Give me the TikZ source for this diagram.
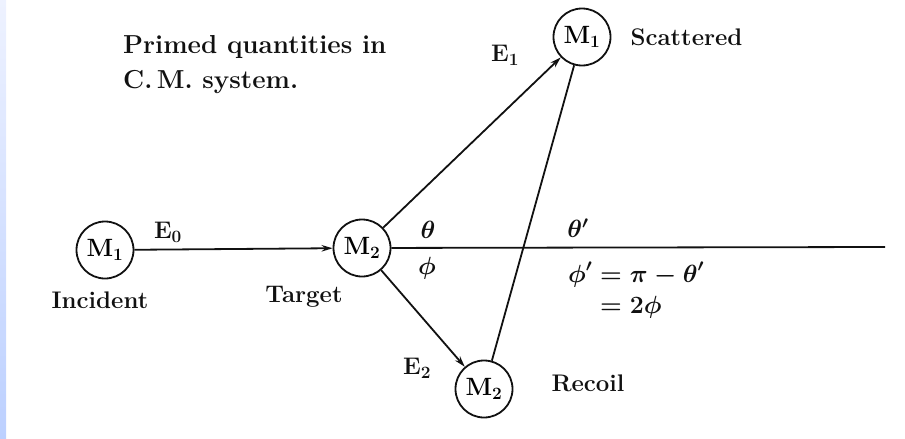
\documentclass[tikz,border=0pt]{standalone}
\usepackage{xcolor}
\usepackage{amsmath,amssymb}
\usepackage{tikz}
\usetikzlibrary{arrows.meta,positioning}
\definecolor{Ink}{HTML}{111111}
\definecolor{StripTop}{HTML}{EEF2FF}
\definecolor{StripBot}{HTML}{BCD0FF}

\begin{document}
\begin{tikzpicture}[x=1pt,y=-1pt,
    particle/.style={circle,draw=Ink,line width=1.8pt,minimum size=57pt,inner sep=0pt,font=\fontsize{25}{28}\selectfont\bfseries\boldmath},
    tag/.style={inner sep=1pt,text=Ink,font=\fontsize{24}{28}\selectfont\bfseries\boldmath},
    arrow/.style={-{Stealth[length=11pt,width=6.5pt]},line width=1.8pt,draw=Ink},
    track/.style={line width=1.8pt,draw=Ink}
]
\useasboundingbox (0,0) rectangle (905,439);
\shade[top color=StripTop,bottom color=StripBot] (0,0) rectangle (6,439);
\node[particle] (inc) at (105,250) {M$_1$};
\node[particle] (tgt) at (362,248) {M$_2$};
\node[particle] (sca) at (582,37) {M$_1$};
\node[particle] (rec) at (484,389) {M$_2$};
\coordinate (far) at (885,247);
\node[tag,anchor=north west,align=left,font=\fontsize{26}{35}\selectfont\bfseries] (note) at (122,34) {Primed quantities in\\C.\,M. system.};
\node[tag] (inctxt) at (100,300) {Incident};
\node[tag] (tgttxt) at (304,297) {Target};
\node[tag,right=18pt of sca] (scatxt) {Scattered};
\node[tag] (rectxt) at (588,383) {Recoil};
\node[tag] (e0) at (168,232) {E$_0$};
\node[tag] (e1) at (505,55) {E$_1$};
\node[tag] (e2) at (417,368) {E$_2$};
\node[tag] (th) at (428,230) {$\theta$};
\node[tag] (ph) at (427,268) {$\phi$};
\node[tag] (thp) at (578,228) {$\theta'$};
\node[tag] (rel) at (636,292) {$\begin{aligned}\phi'&=\pi-\theta'\\&=2\phi\end{aligned}$};
\draw[arrow] (inc) -- (tgt);
\draw[arrow] (tgt) -- (sca);
\draw[arrow] (tgt) -- (rec);
\draw[track] (sca) -- (rec);
\draw[track] (tgt) -- (far);
\end{tikzpicture}
\end{document}
